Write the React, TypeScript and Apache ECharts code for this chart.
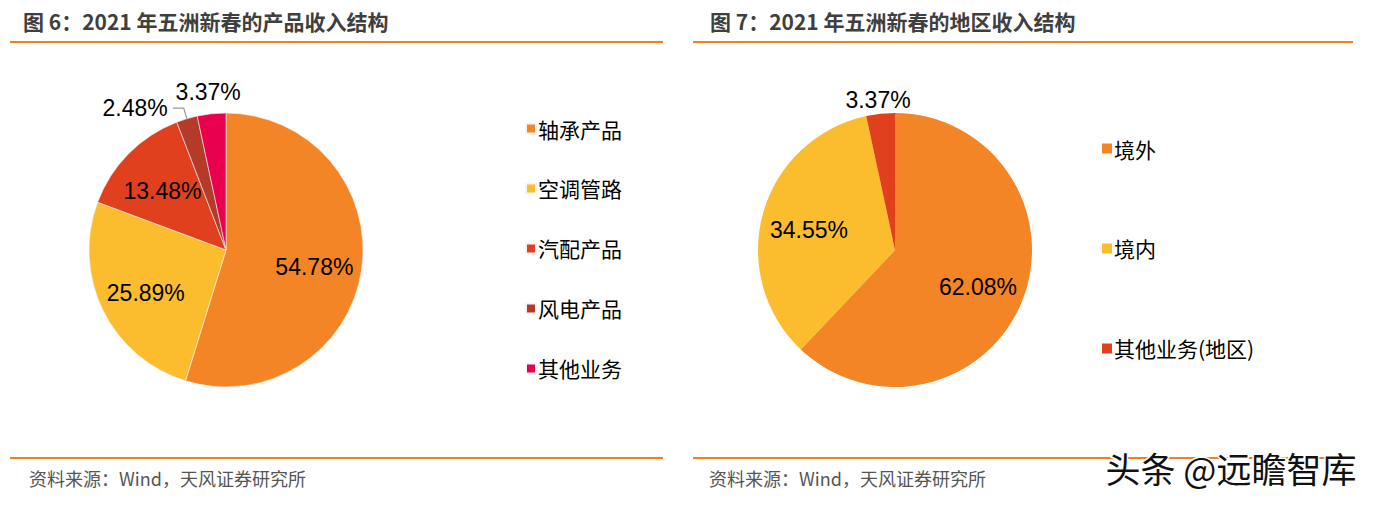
import React, { useEffect, useRef } from "react";
import * as echarts from "echarts";

const productNames = ["轴承产品", "空调管路", "汽配产品", "风电产品", "其他业务"];
const productValues = [54.78, 25.89, 13.48, 2.48, 3.37];
const productColors = ["#F48526", "#FBBC2D", "#E0401D", "#B43A29", "#E8004F"];

const regionNames = ["境外", "境内", "其他业务(地区)"];
const regionValues = [62.08, 34.55, 3.37];
const regionColors = ["#F48526", "#FBBC2D", "#E0401D"];

const titles = ["图 6：2021 年五洲新春的产品收入结构", "图 7：2021 年五洲新春的地区收入结构"];
const sourceText = "资料来源：Wind，天风证券研究所";
const watermark = "头条 @远瞻智库";

const labelFont = "'Liberation Sans', Arial, sans-serif";
const cjkFont = "'Noto Sans CJK SC', sans-serif";

const PIE1 = [226, 250];
const PIE2 = [895, 250];

export default function App() {
  const ref = useRef<HTMLDivElement>(null);
  useEffect(() => {
    document.body.style.margin = "0";
    const chart = echarts.init(ref.current!, null, { renderer: "svg" });
    const pushOut = (c: number[], outsideIdx: number[]) => (p: any) => {
      if (outsideIdx.indexOf(p.dataIndex) >= 0) {
        return p.dataIndex === outsideIdx[outsideIdx.length - 1] ? { align: "center", dx: 4 } : {};
      }
      const r = p.labelRect;
      const lx = r.x + r.width / 2;
      const ly = r.y + r.height / 2;
      return { dx: (lx - c[0]) * 0.25, dy: (ly - c[1]) * 0.25 + 4 };
    };
    const labelBase = {
      show: true,
      position: "inside",
      formatter: (p: any) => p.value.toFixed(2) + "%",
      fontSize: 23,
      color: "#000",
      fontFamily: labelFont,
    };
    const legendBase = {
      orient: "vertical",
      icon: "rect",
      itemWidth: 10,
      itemHeight: 10,
      textStyle: { fontSize: 21, color: "#000", fontFamily: cjkFont, padding: [0, 0, 0, -3] },
      selectedMode: false,
    };
    const option: any = {
      animation: false,
      backgroundColor: "#fff",
      legend: [
        { ...legendBase, data: productNames, left: 520, top: 113, itemGap: 39 },
        { ...legendBase, data: regionNames, left: 1097, top: 133, itemGap: 79 },
      ],
      series: [
        {
          type: "pie",
          center: PIE1,
          radius: 137,
          startAngle: 90,
          clockwise: true,
          avoidLabelOverlap: false,
          itemStyle: { borderColor: "#f5f5f5", borderWidth: 0.6 },
          label: labelBase,
          labelLine: { lineStyle: { color: "#999", width: 1.2 } },
          labelLayout: pushOut(PIE1, [3, 4]),
          data: productNames.map((n, i) => ({
            name: n,
            value: productValues[i],
            itemStyle: { color: productColors[i] },
            ...(i === 3
              ? { label: { position: "outside" }, labelLine: { show: true, length: 11, length2: 11 } }
              : i === 4
              ? { label: { position: "outside" }, labelLine: { show: false, length: 22, length2: 0 } }
              : {}),
          })),
        },
        {
          type: "pie",
          center: PIE2,
          radius: 137,
          startAngle: 90,
          clockwise: true,
          avoidLabelOverlap: false,
          label: labelBase,
          labelLayout: pushOut(PIE2, [2]),
          data: regionNames.map((n, i) => ({
            name: n,
            value: regionValues[i],
            itemStyle: { color: regionColors[i] },
            ...(i === 2
              ? { label: { position: "outside" }, labelLine: { show: false, length: 14, length2: 0 } }
              : {}),
          })),
        },
      ],
      graphic: [
        { type: "text", left: 23, top: 10, style: { text: titles[0], font: `bold 21px ${cjkFont}`, fill: "#3f3f3f" } },
        { type: "text", left: 710, top: 10, style: { text: titles[1], font: `bold 21px ${cjkFont}`, fill: "#3f3f3f" } },
        { type: "rect", shape: { x: 10, y: 41, width: 653, height: 2 }, style: { fill: "#F08020" } },
        { type: "rect", shape: { x: 693, y: 41, width: 660, height: 2 }, style: { fill: "#F08020" } },
        { type: "rect", shape: { x: 10, y: 457, width: 653, height: 2 }, style: { fill: "#F08020" } },
        { type: "rect", shape: { x: 693, y: 457, width: 660, height: 2 }, style: { fill: "#F08020" } },
        { type: "text", left: 29, top: 469, style: { text: sourceText, font: `18px ${cjkFont}`, fill: "#555" } },
        { type: "text", left: 709, top: 469, style: { text: sourceText, font: `18px ${cjkFont}`, fill: "#555" } },
        {
          type: "text",
          left: 1104,
          top: 448,
          style: { text: watermark, font: `35px ${cjkFont}`, fill: "#111", stroke: "#fff", lineWidth: 3 },
        },
      ],
    };
    chart.setOption(option);
    return () => chart.dispose();
  }, []);
  return <div ref={ref} style={{ position: "absolute", left: 0, top: 0, width: 1377, height: 507 }} />;
}
